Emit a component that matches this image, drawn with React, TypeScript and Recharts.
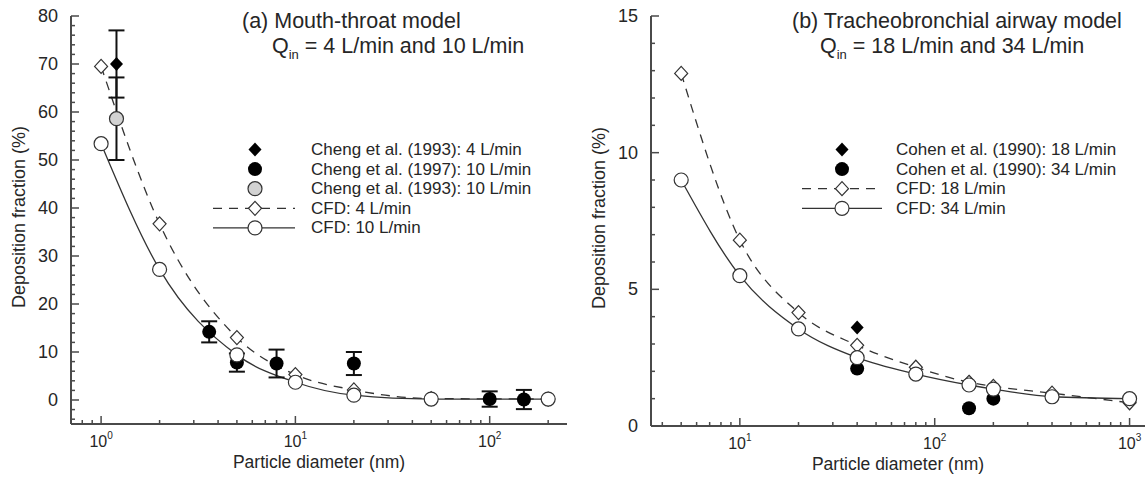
import React from "react";
import { ComposedChart, Line, Scatter, XAxis, YAxis, ErrorBar, Legend } from "recharts";

// (a) mouth-throat model, particle diameter (nm) vs deposition fraction (%)
const mtCfdSizes = [1, 2, 5, 10, 20, 50, 200];
const mtCfd4 = [69.5, 36.7, 13.0, 5.3, 2.1, 0.3, 0.2];
const mtCfd10 = [53.4, 27.2, 9.4, 3.7, 1.0, 0.2, 0.2];
const cheng93Sizes = [1.2];
const cheng93Q4 = [70];
const cheng93Q4Err = [7];
const cheng93Q10 = [58.6];
const cheng93Q10Err = [8.6];
const cheng97Sizes = [3.6, 5, 8, 20, 100, 150];
const cheng97Q10 = [14.2, 7.8, 7.6, 7.6, 0.2, 0.1];
const cheng97Err = [2.2, 1.9, 2.9, 2.4, 1.6, 2.0];

// (b) tracheobronchial airway model
const tbCfdSizes = [5, 10, 20, 40, 80, 150, 200, 400, 1000];
const tbCfd18 = [12.9, 6.8, 4.15, 2.95, 2.15, 1.6, 1.45, 1.2, 0.85];
const tbCfd34 = [9.0, 5.5, 3.55, 2.5, 1.9, 1.5, 1.35, 1.07, 1.0];
const cohen18Sizes = [40, 150];
const cohen18 = [3.6, 1.6];
const cohen34Sizes = [40, 150, 200];
const cohen34 = [2.1, 0.65, 1.0];

const mtYMajor = [0, 10, 20, 30, 40, 50, 60, 70, 80];
const tbYMajor = [0, 5, 10, 15];

const FONT = "'Liberation Sans', Arial, Helvetica, sans-serif";
const INK = "#262626";
const AXIS = "#4a4a4a";
const LINE = "#333";

const pts = (xs: number[], ys: number[], errs?: number[]) =>
  xs.map((x, i) => ({ x, y: ys[i], err: errs ? errs[i] : 0 }));

const range = (from: number, to: number, step: number) => {
  const out: number[] = [];
  for (let v = from; v <= to + 1e-9; v += step) out.push(Math.round(v * 1000) / 1000);
  return out;
};

// log ticks: 1..9 times each decade, inside the domain
const logTicks = (lo: number, hi: number) => {
  const out: number[] = [];
  for (let e = -1; e <= 3; e++) {
    for (let m = 1; m <= 9; m++) {
      const v = parseFloat((m * Math.pow(10, e)).toPrecision(6));
      if (v >= lo && v <= hi) out.push(v);
    }
  }
  return out;
};

const isDecade = (v: number) => {
  const e = Math.log10(v);
  return Math.abs(e - Math.round(e)) < 1e-6;
};

function YTick(props: any) {
  const { x, y, payload, majors } = props;
  const major = majors.includes(payload.value);
  return (
    <g>
      <line x1={x} x2={x + (major ? 8 : 4)} y1={y} y2={y} stroke={AXIS} strokeWidth={1.5} />
      {major && (
        <text x={x - 13} y={y} textAnchor="end" dominantBaseline="central" fontSize={18} fontFamily={FONT} fill={INK}>
          {payload.value}
        </text>
      )}
    </g>
  );
}

function XTick(props: any) {
  const { x, y, payload } = props;
  const major = isDecade(payload.value);
  return (
    <g>
      <line x1={x} x2={x} y1={y} y2={y - (major ? 8 : 4)} stroke={AXIS} strokeWidth={1.5} />
      {major && (
        <text x={x} y={y + 23} textAnchor="middle" fontSize={16} fontFamily={FONT} fill={INK}>
          10
          <tspan dy={-8} fontSize={10}>
            {Math.round(Math.log10(payload.value))}
          </tspan>
        </text>
      )}
    </g>
  );
}

const YTitle = (props: any) => {
  const vb = props.viewBox;
  const cx = 19;
  const cy = vb.y + vb.height / 2 - 3;
  return (
    <text
      x={cx}
      y={cy}
      transform={`rotate(-90 ${cx} ${cy})`}
      textAnchor="middle"
      dominantBaseline="central"
      fontSize={18}
      fontFamily={FONT}
      fill={INK}
    >
      Deposition fraction (%)
    </text>
  );
};

const XTitle = (props: any) => {
  const vb = props.viewBox;
  return (
    <text x={vb.x + vb.width / 2} y={vb.y + 44} textAnchor="middle" fontSize={17.5} fontFamily={FONT} fill={INK}>
      Particle diameter (nm)
    </text>
  );
};

const OpenDiamond = ({ cx, cy }: any) => (
  <path
    d={`M${cx},${cy - 7}L${cx + 6.5},${cy}L${cx},${cy + 7}L${cx - 6.5},${cy}Z`}
    fill="#fff"
    stroke={LINE}
    strokeWidth={1.2}
  />
);
const BlackDiamond = ({ cx, cy }: any) => (
  <path d={`M${cx},${cy - 7}L${cx + 6.5},${cy}L${cx},${cy + 7}L${cx - 6.5},${cy}Z`} fill="#000" />
);
const OpenCircle = ({ cx, cy }: any) => (
  <circle cx={cx} cy={cy} r={7} fill="#fff" stroke={LINE} strokeWidth={1.2} />
);
const BlackCircle = ({ cx, cy }: any) => <circle cx={cx} cy={cy} r={7} fill="#000" />;
const GrayCircle = ({ cx, cy }: any) => (
  <circle cx={cx} cy={cy} r={7} fill="#d2d2d2" stroke={LINE} strokeWidth={1.2} />
);

type Row = { label: string; mark: "bd" | "bc" | "gc" | "dash" | "solid" };

function LegendBox({
  width,
  title,
  qText,
  titleX,
  qX,
  markX,
  lineFrom,
  lineTo,
  textX,
  rows,
}: {
  width: number;
  title: string;
  qText: string;
  titleX: number;
  qX: number;
  markX: number;
  lineFrom: number;
  lineTo: number;
  textX: number;
  rows: Row[];
}) {
  return (
    <svg width={width} height={240} style={{ display: "block", overflow: "visible" }}>
      <text x={titleX} y={28} fontSize={21.5} fontFamily={FONT} fill={INK}>
        {title}
      </text>
      <text x={qX} y={53} fontSize={21.5} fontFamily={FONT} fill={INK}>
        Q
        <tspan dy={6} fontSize={13}>
          in
        </tspan>
        <tspan dy={-6}>{qText}</tspan>
      </text>
      {rows.map((r, i) => {
        const y = 149.5 + i * 19.6;
        return (
          <g key={r.label}>
            {r.mark === "dash" && (
              <line x1={lineFrom} x2={lineTo} y1={y} y2={y} stroke={LINE} strokeWidth={1.3} strokeDasharray="9 7" />
            )}
            {r.mark === "solid" && <line x1={lineFrom} x2={lineTo} y1={y} y2={y} stroke={LINE} strokeWidth={1.3} />}
            {r.mark === "bd" && <BlackDiamond cx={markX} cy={y} />}
            {r.mark === "bc" && <BlackCircle cx={markX} cy={y} />}
            {r.mark === "gc" && <GrayCircle cx={markX} cy={y} />}
            {r.mark === "dash" && <OpenDiamond cx={markX} cy={y} />}
            {r.mark === "solid" && <OpenCircle cx={markX} cy={y} />}
            <text x={textX} y={y} dominantBaseline="central" fontSize={17} fontFamily={FONT} fill={INK}>
              {r.label}
            </text>
          </g>
        );
      })}
    </svg>
  );
}

const mtRows: Row[] = [
  { label: "Cheng et al. (1993): 4 L/min", mark: "bd" },
  { label: "Cheng et al. (1997): 10 L/min", mark: "bc" },
  { label: "Cheng et al. (1993): 10 L/min", mark: "gc" },
  { label: "CFD: 4 L/min", mark: "dash" },
  { label: "CFD: 10 L/min", mark: "solid" },
];

const tbRows: Row[] = [
  { label: "Cohen et al. (1990): 18 L/min", mark: "bd" },
  { label: "Cohen et al. (1990): 34 L/min", mark: "bc" },
  { label: "CFD: 18 L/min", mark: "dash" },
  { label: "CFD: 34 L/min", mark: "solid" },
];

const legendProps = {
  layout: "horizontal" as const,
  verticalAlign: "middle" as const,
  align: "center" as const,
};

function MouthThroatChart() {
  const xDomain = [0.7, 250];
  return (
    <ComposedChart width={580} height={478} margin={{ top: 16, right: 13, bottom: 14, left: 0 }}>
      <XAxis
        dataKey="x"
        type="number"
        scale="log"
        domain={xDomain}
        allowDataOverflow
        ticks={logTicks(xDomain[0], xDomain[1])}
        interval={0}
        tickSize={0}
        tickMargin={0}
        tickLine={false}
        tick={(p: any) => <XTick {...p} />}
        axisLine={{ stroke: AXIS, strokeWidth: 2 }}
        height={40}
        label={{ content: (p: any) => <XTitle {...p} /> }}
      />
      <YAxis
        dataKey="y"
        type="number"
        domain={[-5, 80]}
        allowDataOverflow
        ticks={range(-4, 80, 2)}
        interval={0}
        tickSize={0}
        tickMargin={0}
        tickLine={false}
        tick={(p: any) => <YTick {...p} majors={mtYMajor} />}
        axisLine={{ stroke: AXIS, strokeWidth: 2 }}
        width={71}
        label={{ content: (p: any) => <YTitle {...p} /> }}
      />
      <Line
        data={pts(mtCfdSizes, mtCfd4)}
        dataKey="y"
        type="monotone"
        stroke={LINE}
        strokeWidth={1.3}
        strokeDasharray="9 7"
        dot={(p: any) => <OpenDiamond key={p.index} cx={p.cx} cy={p.cy} />}
        isAnimationActive={false}
      />
      <Line
        data={pts(mtCfdSizes, mtCfd10)}
        dataKey="y"
        type="monotone"
        stroke={LINE}
        strokeWidth={1.3}
        dot={(p: any) => <OpenCircle key={p.index} cx={p.cx} cy={p.cy} />}
        isAnimationActive={false}
      />
      <Scatter data={pts(cheng93Sizes, cheng93Q10, cheng93Q10Err)} shape={(p: any) => <GrayCircle {...p} />} isAnimationActive={false}>
        <ErrorBar dataKey="err" direction="y" width={8} stroke="#111" strokeWidth={2} />
      </Scatter>
      <Scatter data={pts(cheng93Sizes, cheng93Q4, cheng93Q4Err)} shape={(p: any) => <BlackDiamond {...p} />} isAnimationActive={false}>
        <ErrorBar dataKey="err" direction="y" width={8} stroke="#111" strokeWidth={2} />
      </Scatter>
      <Scatter data={pts(cheng97Sizes, cheng97Q10, cheng97Err)} shape={(p: any) => <BlackCircle {...p} />} isAnimationActive={false}>
        <ErrorBar dataKey="err" direction="y" width={8} stroke="#111" strokeWidth={2} />
      </Scatter>
      <Legend
        {...legendProps}
        wrapperStyle={{ top: 0, left: 0, width: 580, height: 240 }}
        content={() => (
          <LegendBox
            width={580}
            title="(a) Mouth-throat model"
            qText=" = 4 L/min and 10 L/min"
            titleX={242}
            qX={272}
            markX={255}
            lineFrom={213}
            lineTo={295}
            textX={311}
            rows={mtRows}
          />
        )}
      />
    </ComposedChart>
  );
}

function TracheobronchialChart() {
  const xDomain = [3.5, 1200];
  return (
    <ComposedChart width={566} height={478} margin={{ top: 16, right: 1, bottom: 12, left: 0 }}>
      <XAxis
        dataKey="x"
        type="number"
        scale="log"
        domain={xDomain}
        allowDataOverflow
        ticks={logTicks(xDomain[0], xDomain[1])}
        interval={0}
        tickSize={0}
        tickMargin={0}
        tickLine={false}
        tick={(p: any) => <XTick {...p} />}
        axisLine={{ stroke: AXIS, strokeWidth: 2 }}
        height={40}
        label={{ content: (p: any) => <XTitle {...p} /> }}
      />
      <YAxis
        dataKey="y"
        type="number"
        domain={[0, 15]}
        allowDataOverflow
        ticks={range(0, 15, 1)}
        interval={0}
        tickSize={0}
        tickMargin={0}
        tickLine={false}
        tick={(p: any) => <YTick {...p} majors={tbYMajor} />}
        axisLine={{ stroke: AXIS, strokeWidth: 2 }}
        width={71}
        label={{ content: (p: any) => <YTitle {...p} /> }}
      />
      <Line
        data={pts(tbCfdSizes, tbCfd18)}
        dataKey="y"
        type="monotone"
        stroke={LINE}
        strokeWidth={1.3}
        strokeDasharray="9 7"
        dot={(p: any) => <OpenDiamond key={p.index} cx={p.cx} cy={p.cy} />}
        isAnimationActive={false}
      />
      <Line
        data={pts(tbCfdSizes, tbCfd34)}
        dataKey="y"
        type="monotone"
        stroke={LINE}
        strokeWidth={1.3}
        dot={(p: any) => <OpenCircle key={p.index} cx={p.cx} cy={p.cy} />}
        isAnimationActive={false}
      />
      <Scatter data={pts(cohen18Sizes, cohen18)} shape={(p: any) => <BlackDiamond {...p} />} isAnimationActive={false} />
      <Scatter data={pts(cohen34Sizes, cohen34)} shape={(p: any) => <BlackCircle {...p} />} isAnimationActive={false} />
      <Legend
        {...legendProps}
        wrapperStyle={{ top: 0, left: 0, width: 566, height: 240 }}
        content={() => (
          <LegendBox
            width={566}
            title="(b) Tracheobronchial airway model"
            qText=" = 18 L/min and 34 L/min"
            titleX={212}
            qX={240}
            markX={262}
            lineFrom={222}
            lineTo={302}
            textX={316}
            rows={tbRows}
          />
        )}
      />
    </ComposedChart>
  );
}

export default function App() {
  return (
    <div
      style={{
        position: "absolute",
        left: 0,
        top: 0,
        width: 1146,
        height: 478,
        background: "#fff",
        fontFamily: FONT,
        overflow: "hidden",
      }}
    >
      <div style={{ position: "absolute", left: 0, top: 0 }}>
        <MouthThroatChart />
      </div>
      <div style={{ position: "absolute", left: 580, top: 0 }}>
        <TracheobronchialChart />
      </div>
    </div>
  );
}
